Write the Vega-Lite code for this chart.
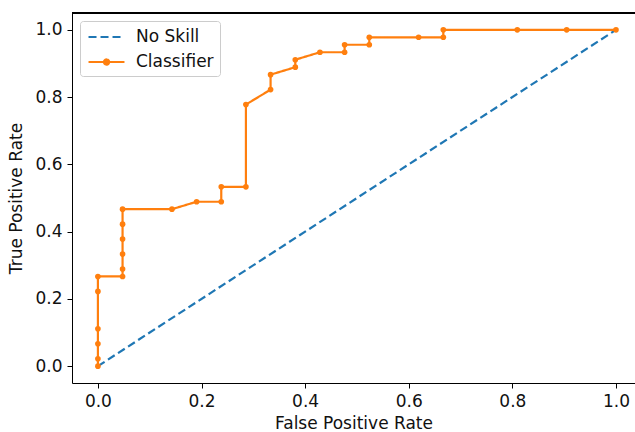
{
  "$schema": "https://vega.github.io/schema/vega-lite/v6.json",
  "width": 563,
  "height": 370,
  "autosize": {"type": "none"},
  "padding": {"left": 72, "top": 13, "right": 0, "bottom": 49},
  "background": "white",
  "config": {
    "view": {"stroke": null},
    "font": "DejaVu Sans",
    "axis": {
      "grid": false,
      "domainColor": "#000",
      "domainWidth": 1,
      "tickColor": "#000",
      "tickSize": 5,
      "tickWidth": 1,
      "labelFont": "DejaVu Sans",
      "labelFontSize": 17,
      "labelColor": "#111",
      "titleFont": "DejaVu Sans",
      "titleFontSize": 17,
      "titleFontWeight": "normal",
      "titleColor": "#111"
    },
    "legend": {
      "labelFont": "DejaVu Sans",
      "labelFontSize": 17,
      "labelColor": "#111"
    }
  },
  "data": {
    "values": [
      {"series": "No Skill", "fpr": 0, "tpr": 0},
      {"series": "No Skill", "fpr": 1, "tpr": 1},
      {"series": "Classifier", "fpr": 0, "tpr": 0},
      {"series": "Classifier", "fpr": 0, "tpr": 0.0222},
      {"series": "Classifier", "fpr": 0, "tpr": 0.0667},
      {"series": "Classifier", "fpr": 0, "tpr": 0.1111},
      {"series": "Classifier", "fpr": 0, "tpr": 0.2222},
      {"series": "Classifier", "fpr": 0, "tpr": 0.2667},
      {"series": "Classifier", "fpr": 0.0476, "tpr": 0.2667},
      {"series": "Classifier", "fpr": 0.0476, "tpr": 0.2889},
      {"series": "Classifier", "fpr": 0.0476, "tpr": 0.3333},
      {"series": "Classifier", "fpr": 0.0476, "tpr": 0.3778},
      {"series": "Classifier", "fpr": 0.0476, "tpr": 0.4222},
      {"series": "Classifier", "fpr": 0.0476, "tpr": 0.4667},
      {"series": "Classifier", "fpr": 0.1429, "tpr": 0.4667},
      {"series": "Classifier", "fpr": 0.1905, "tpr": 0.4889},
      {"series": "Classifier", "fpr": 0.2381, "tpr": 0.4889},
      {"series": "Classifier", "fpr": 0.2381, "tpr": 0.5333},
      {"series": "Classifier", "fpr": 0.2857, "tpr": 0.5333},
      {"series": "Classifier", "fpr": 0.2857, "tpr": 0.7778},
      {"series": "Classifier", "fpr": 0.3333, "tpr": 0.8222},
      {"series": "Classifier", "fpr": 0.3333, "tpr": 0.8667},
      {"series": "Classifier", "fpr": 0.381, "tpr": 0.8889},
      {"series": "Classifier", "fpr": 0.381, "tpr": 0.9111},
      {"series": "Classifier", "fpr": 0.4286, "tpr": 0.9333},
      {"series": "Classifier", "fpr": 0.4762, "tpr": 0.9333},
      {"series": "Classifier", "fpr": 0.4762, "tpr": 0.9556},
      {"series": "Classifier", "fpr": 0.5238, "tpr": 0.9556},
      {"series": "Classifier", "fpr": 0.5238, "tpr": 0.9778},
      {"series": "Classifier", "fpr": 0.619, "tpr": 0.9778},
      {"series": "Classifier", "fpr": 0.6667, "tpr": 0.9778},
      {"series": "Classifier", "fpr": 0.6667, "tpr": 1.0},
      {"series": "Classifier", "fpr": 0.8095, "tpr": 1.0},
      {"series": "Classifier", "fpr": 0.9048, "tpr": 1.0},
      {"series": "Classifier", "fpr": 1.0, "tpr": 1.0}
    ]
  },
  "layer": [
    {
      "mark": {"type": "rule", "color": "#000", "strokeWidth": 1},
      "encoding": {
        "y": {"datum": 1.05, "type": "quantitative", "scale": {"domain": [-0.05, 1.05], "nice": false, "zero": false}}
      }
    },
    {
      "mark": {"type": "line", "strokeWidth": 2.2, "clip": true},
      "encoding": {
        "x": {
          "field": "fpr", "type": "quantitative",
          "scale": {"domain": [-0.05, 1.0367], "nice": false, "zero": false},
          "axis": {"title": "False Positive Rate", "values": [0, 0.2, 0.4, 0.6, 0.8, 1.0], "format": ".1f", "labelPadding": 5, "titlePadding": 6}
        },
        "y": {
          "field": "tpr", "type": "quantitative",
          "scale": {"domain": [-0.05, 1.05], "nice": false, "zero": false},
          "axis": {"title": "True Positive Rate", "values": [0, 0.2, 0.4, 0.6, 0.8, 1.0], "format": ".1f", "labelPadding": 5, "titlePadding": 9}
        },
        "color": {
          "field": "series", "type": "nominal",
          "scale": {"domain": ["No Skill", "Classifier"], "range": ["#1f77b4", "#ff7f0e"]},
          "legend": {
            "title": null,
            "orient": "none",
            "legendX": 8,
            "legendY": 8,
            "symbolType": "M-0.88,0H3.35",
            "symbolSize": 289,
            "symbolStrokeWidth": 2.2,
            "padding": 6,
            "rowPadding": 7,
            "labelOffset": 30,
            "strokeColor": "#cccccc",
            "fillColor": "white",
            "cornerRadius": 3,
            "encode": {
              "symbols": {
                "update": {
                  "shape": {"signal": "datum.value == 'Classifier' ? 'M-0.88,0H3.35M1.54,0A0.3,0.3,0,1,1,0.94,0A0.3,0.3,0,1,1,1.54,0Z' : 'M-0.88,0H3.35'"},
                  "fill": {"signal": "datum.value == 'Classifier' ? '#ff7f0e' : 'transparent'"}
                }
              }
            }
          }
        },
        "strokeDash": {
          "field": "series", "type": "nominal",
          "scale": {"domain": ["No Skill", "Classifier"], "range": [[8, 4], [1, 0]]},
          "legend": null
        },
        "order": {"value": null}
      }
    },
    {
      "transform": [{"filter": "datum.series == 'Classifier'"}],
      "mark": {"type": "point", "filled": true, "opacity": 1, "size": 32, "color": "#ff7f0e"},
      "encoding": {
        "x": {"field": "fpr", "type": "quantitative"},
        "y": {"field": "tpr", "type": "quantitative"}
      }
    }
  ]
}
